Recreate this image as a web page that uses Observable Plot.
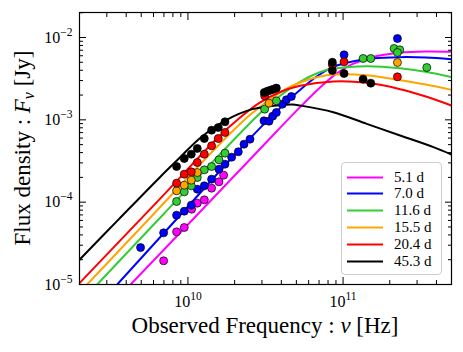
<!DOCTYPE html>
<html><head><meta charset="utf-8">
<script src="https://cdn.jsdelivr.net/npm/d3@7"></script>
<script src="https://cdn.jsdelivr.net/npm/@observablehq/plot@0.6"></script>
<style>
body{margin:0;background:#fff;}
#wrap{position:relative;width:463px;height:352px;font-family:"Liberation Serif","Times New Roman",serif;}
#legend{position:absolute;left:341px;top:162px;width:101px;height:113px;border:1px solid #cccccc;border-radius:4px;background:rgba(255,255,255,0.85);box-sizing:border-box;}
.row{position:absolute;left:0;width:99px;height:16px;color:#000;}
.row svg{position:absolute;left:5px;top:7px;}
.row span{position:absolute;left:52px;top:0;display:block;height:16px;line-height:16px;font-size:15px;white-space:nowrap;}
</style>
</head><body>
<div id="wrap"><div id="chart"></div><div id="legend"></div></div>
<script>
const epochs = ["5.1 d","7.0 d","11.6 d","15.5 d","20.4 d","45.3 d"];
const colors = ["#ff00ff","#0000ff","#32cd32","#ffa500","#ff0000","#000000"];

// observed data (frequency Hz, flux Jy)
const obsNu51 = [6.97e9, 8.45e9, 9.47e9, 1.056e10, 1.149e10, 1.275e10, 1.421e10, 1.585e10, 1.699e10];
const obsF51  = [1.94e-5, 4.36e-5, 4.92e-5, 8.22e-5, 9.72e-5, 1.067e-4, 1.479e-4, 1.766e-4, 2.128e-4];
const obsNu70 = [4.95e9, 6.97e9, 8.45e9, 9.47e9, 1.051e10, 1.149e10, 1.275e10, 1.421e10, 1.585e10, 1.733e10, 1.913e10, 2.112e10, 2.298e10, 2.512e10, 3.092e10, 3.331e10, 3.517e10, 3.715e10, 4.061e10, 4.309e10, 4.642e10, 1.015e11, 2.241e11];
const obsF70  = [2.81e-5, 4.24e-5, 6.95e-5, 7.77e-5, 9.20e-5, 1.438e-4, 1.578e-4, 1.903e-4, 2.517e-4, 2.894e-4, 3.52e-4, 4.087e-4, 5.06e-4, 5.82e-4, 9.72e-4, 9.63e-4, 1.108e-3, 1.228e-3, 1.550e-3, 1.749e-3, 1.920e-3, 6.16e-3, 9.72e-3];
const obsNu116 = [8.45e9, 9.47e9, 1.051e10, 1.149e10, 1.275e10, 1.421e10, 1.585e10, 1.733e10, 3.123e10, 3.715e10, 1.346e11, 1.509e11, 2.133e11, 2.321e11, 2.241e11, 3.466e11];
const obsF116  = [1.019e-4, 1.335e-4, 1.578e-4, 1.994e-4, 2.47e-4, 2.71e-4, 3.27e-4, 3.94e-4, 1.348e-3, 1.701e-3, 5.56e-3, 5.56e-3, 7.35e-3, 7.08e-3, 6.57e-3, 4.32e-3];
const obsNu155 = [8.45e9, 9.47e9, 1.051e10, 1.149e10, 3.331e10, 2.241e11];
const obsF155  = [1.373e-4, 1.609e-4, 1.850e-4, 2.292e-4, 1.594e-3, 4.97e-3];
const obsNu204 = [8.45e9, 9.47e9, 1.051e10, 1.149e10, 1.275e10, 1.421e10, 1.569e10, 1.733e10, 3.123e10, 8.53e10, 1.015e11, 2.241e11];
const obsF204  = [1.701e-4, 2.188e-4, 2.336e-4, 3.032e-4, 3.83e-4, 4.83e-4, 5.93e-4, 7.02e-4, 1.956e-3, 4.66e-3, 5.06e-3, 3.328e-3];
const obsNu453 = [8.45e9, 9.47e9, 1.051e10, 1.149e10, 1.275e10, 1.421e10, 1.569e10, 1.733e10, 3.106e10, 3.249e10, 3.398e10, 3.552e10, 3.715e10, 8.53e10, 8.53e10, 1.015e11, 1.346e11, 1.509e11];
const obsF453  = [2.71e-4, 3.39e-4, 3.83e-4, 4.49e-4, 5.93e-4, 7.49e-4, 8.07e-4, 9.46e-4, 2.148e-3, 2.23e-3, 2.29e-3, 2.358e-3, 2.43e-3, 5.01e-3, 3.97e-3, 3.65e-3, 3.12e-3, 2.79e-3];

// model curves
const modNu51 = [4.27e9, 1.121e10, 3.06e10, 5.28e10, 7.00e10, 8.97e10, 1.148e11, 1.546e11, 2.298e11, 3.415e11, 5e11];
const modF51  = [1e-5, 6.70e-5, 4.88e-4, 1.425e-3, 2.403e-3, 3.586e-3, 4.744e-3, 5.769e-3, 6.514e-3, 6.761e-3, 6.698e-3];
const modNu70 = [3.50e9, 8.75e9, 2.275e10, 3.865e10, 5.202e10, 6.763e10, 8.66e10, 1.148e11, 1.546e11, 2.298e11, 3.415e11, 5e11];
const modF70  = [1e-5, 6.70e-5, 4.88e-4, 1.348e-3, 2.250e-3, 3.359e-3, 4.402e-3, 5.110e-3, 5.558e-3, 5.769e-3, 5.715e-3, 5.455e-3];
const modNu116 = [2.60e9, 6.83e9, 1.820e10, 2.871e10, 3.733e10, 5.28e10, 7.00e10, 8.66e10, 1.421e11, 2.332e11, 3.415e11, 5e11];
const modF116  = [1e-5, 6.89e-5, 4.88e-4, 1.172e-3, 1.815e-3, 2.894e-3, 3.757e-3, 4.163e-3, 4.486e-3, 4.241e-3, 3.828e-3, 3.297e-3];
const modNu155 = [2.24e9, 5.89e9, 1.569e10, 2.475e10, 3.218e10, 4.267e10, 5.28e10, 7.00e10, 8.66e10, 1.421e11, 2.332e11, 3.415e11, 5e11];
const modF155  = [1e-5, 6.89e-5, 4.88e-4, 1.118e-3, 1.654e-3, 2.358e-3, 2.841e-3, 3.328e-3, 3.553e-3, 3.487e-3, 3.032e-3, 2.686e-3, 2.314e-3];
const modNu204 = [2e9, 6.60e9, 1.585e10, 2.133e10, 2.871e10, 3.865e10, 5.28e10, 8.66e10, 1.421e11, 2.332e11, 3.415e11, 5e11];
const modF204  = [1.04e-5, 1.098e-4, 6.27e-4, 1.038e-3, 1.594e-3, 2.148e-3, 2.588e-3, 2.921e-3, 2.814e-3, 2.358e-3, 1.920e-3, 1.493e-3];
const modNu453 = [2e9, 3.59e9, 6.60e9, 8.75e9, 1.195e10, 1.776e10, 2.601e10, 3.865e10, 4.71e10, 5.28e10, 8.66e10, 1.421e11, 2.332e11, 3.826e11, 5e11];
const modF453  = [2.0e-5, 6.22e-5, 2.01e-4, 3.39e-4, 5.99e-4, 1.0e-3, 1.348e-3, 1.507e-3, 1.536e-3, 1.493e-3, 1.239e-3, 8.94e-4, 6.45e-4, 4.66e-4, 3.79e-4];

// axis ticks
const xMajor = [1e10, 1e11];
const xMinor = [3e9,4e9,5e9,6e9,7e9,8e9,9e9,2e10,3e10,4e10,5e10,6e10,7e10,8e10,9e10,2e11,3e11,4e11];
const yMajor = [1e-5, 1e-4, 1e-3, 1e-2];
const yMinor = [2e-5,3e-5,4e-5,5e-5,6e-5,7e-5,8e-5,9e-5,2e-4,3e-4,4e-4,5e-4,6e-4,7e-4,8e-4,9e-4,2e-3,3e-3,4e-3,5e-3,6e-3,7e-3,8e-3,9e-3,2e-2];

const obsSets = [[obsNu51,obsF51],[obsNu70,obsF70],[obsNu116,obsF116],[obsNu155,obsF155],[obsNu204,obsF204],[obsNu453,obsF453]];
const modSets = [[modNu51,modF51],[modNu70,modF70],[modNu116,modF116],[modNu155,modF155],[modNu204,modF204],[modNu453,modF453]];
const obs = obsSets.flatMap(([n,f],i)=>n.map((v,j)=>({nu:v,f:f[j],epoch:epochs[i]})));
const mod = modSets.flatMap(([n,f],i)=>n.map((v,j)=>({nu:v,f:f[j],epoch:epochs[i]})));

const fmt = d => "10^" + String(Math.round(Math.log10(d))).replace("-", "\u2212");
const none = () => "";

const chart = Plot.plot({
  width: 463, height: 352,
  marginLeft: 79, marginRight: 12, marginTop: 12, marginBottom: 68,
  style: {fontFamily: '"Liberation Serif","Times New Roman",serif', fontSize: "16px", color: "#000", background: "#fff"},
  x: {type: "log", domain: [2e9, 5e11], axis: null},
  y: {type: "log", domain: [1e-5, 2.012e-2], axis: null},
  color: {domain: epochs, range: colors},
  marks: [
    Plot.line(mod, {x: "nu", y: "f", z: "epoch", stroke: "epoch", strokeWidth: 2, curve: "catmull-rom", clip: true}),
    Plot.dot(obs, {x: "nu", y: "f", fill: "epoch", stroke: "#000", strokeWidth: 0.7, r: 4}),
    Plot.axisX(xMajor, {anchor: "bottom", tickSize: 0, tickPadding: 11, tickFormat: fmt, label: null}),
    Plot.axisY(yMajor, {anchor: "left", tickSize: 0, tickPadding: 7, tickFormat: fmt, label: null}),
    Plot.axisX(xMajor, {anchor: "bottom", tickSize: -7, tickFormat: none, label: null}),
    Plot.axisX(xMinor, {anchor: "bottom", tickSize: -4, tickFormat: none, label: null}),
    Plot.axisX(xMajor, {anchor: "top", tickSize: -7, tickFormat: none, label: null}),
    Plot.axisX(xMinor, {anchor: "top", tickSize: -4, tickFormat: none, label: null}),
    Plot.axisY(yMajor, {anchor: "left", tickSize: -7, tickFormat: none, label: null}),
    Plot.axisY(yMinor, {anchor: "left", tickSize: -4, tickFormat: none, label: null}),
    Plot.axisY(yMajor, {anchor: "right", tickSize: -7, tickFormat: none, label: null}),
    Plot.axisY(yMinor, {anchor: "right", tickSize: -4, tickFormat: none, label: null}),
    Plot.frame({stroke: "#000", strokeWidth: 1.2})
  ]
});
document.getElementById("chart").appendChild(chart);

// superscript tick labels
const ns = "http://www.w3.org/2000/svg";
chart.querySelectorAll("text").forEach(t => {
  const s = t.textContent;
  if (!s.includes("^")) return;
  const [base, exp] = s.split("^");
  t.textContent = "";
  const a = document.createElementNS(ns, "tspan"); a.textContent = base;
  const b = document.createElementNS(ns, "tspan"); b.textContent = exp;
  b.setAttribute("dy", "-7"); b.setAttribute("font-size", "11.5px");
  t.append(a, b);
});

const svg = d3.select(chart);
const xl = svg.append("text").attr("x", 265).attr("y", 333).attr("text-anchor", "middle")
  .attr("font-size", 23).attr("fill", "#000");
xl.append("tspan").text("Observed Frequency : ");
xl.append("tspan").attr("font-style", "italic").text("\u03bd");
xl.append("tspan").text(" [Hz]");

const yl = svg.append("text").attr("transform", "translate(30,148) rotate(-90)").attr("text-anchor", "middle")
  .attr("font-size", 23).attr("fill", "#000");
yl.append("tspan").text("Flux density : ");
yl.append("tspan").attr("font-style", "italic").text("F");
yl.append("tspan").attr("font-style", "italic").attr("font-size", "16px").attr("dy", 4).text("\u03bd");
yl.append("tspan").attr("dy", -4).text(" [Jy]");

// legend
const leg = document.getElementById("legend");
epochs.forEach((e, i) => {
  const row = document.createElement("div");
  row.className = "row";
  row.style.top = (5.5 + i * 16.9) + "px";
  row.innerHTML = `<svg width="36" height="3"><line x1="0" y1="1.5" x2="36" y2="1.5" stroke="${colors[i]}" stroke-width="2"/></svg><span>${e}</span>`;
  leg.appendChild(row);
});
</script>
</body></html>
